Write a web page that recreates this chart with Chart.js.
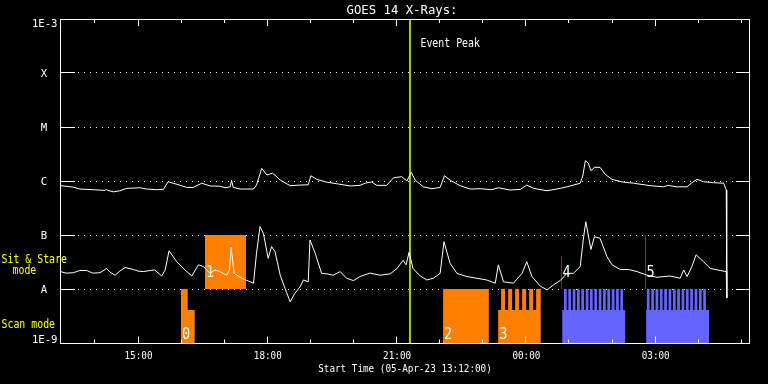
<!DOCTYPE html>
<html><head><meta charset="utf-8">
<script src="https://cdn.jsdelivr.net/npm/chart.js@4/dist/chart.umd.min.js"></script>
<style>html,body{margin:0;padding:0;background:#000;overflow:hidden}</style>
</head><body>
<canvas id="c" width="768" height="384"></canvas>
<script>
// ---- axis data ----
const hourTicks = [14,15,16,17,18,19,20,21,22,23,24,25,26,27,28,29];
const labelHours = [15,18,21,24,27];
const labelTexts = ['15:00','18:00','21:00','00:00','03:00'];
const levelValues = [1e-9,1e-8,1e-7,1e-6,1e-5,1e-4,1e-3];
const levelLabels = ['1E-9','A','B','C','M','X','1E-3'];
const titleText = 'GOES 14 X-Rays:';
const xTitleText = 'Start Time (05-Apr-23 13:12:00)';

// ---- GOES long channel (1-8 A) ----
const longT = [13.20,13.50,13.65,13.96,14.23,14.27,14.30,14.43,14.58,14.74,15.05,15.20,15.43,15.59,15.70,15.90,16.13,16.28,16.48,16.67,16.90,17.02,17.14,17.17,17.21,17.37,17.68,17.75,17.87,17.99,18.12,18.22,18.30,18.53,18.76,18.95,19.01,19.15,19.38,19.61,19.92,20.15,20.27,20.42,20.54,20.77,20.93,21.12,21.24,21.34,21.43,21.62,21.82,22.01,22.11,22.24,22.47,22.71,22.94,23.21,23.36,23.63,23.87,24.02,24.18,24.49,24.80,25.03,25.26,25.32,25.38,25.45,25.51,25.59,25.72,25.84,26.00,26.26,26.50,26.88,27.19,27.30,27.50,27.74,27.85,27.97,28.12,28.35,28.59,28.65,28.66];
const longF = [8.2e-7,7.7e-7,7.1e-7,6.9e-7,6.7e-7,7.0e-7,6.7e-7,6.3e-7,6.6e-7,7.3e-7,7.5e-7,7.1e-7,6.9e-7,7.0e-7,9.7e-7,8.7e-7,7.6e-7,7.6e-7,9.1e-7,8.1e-7,8.0e-7,7.5e-7,7.8e-7,1.03e-6,7.6e-7,7.1e-7,7.1e-7,8.4e-7,1.72e-6,1.29e-6,1.39e-6,1.20e-6,1.04e-6,8.2e-7,8.4e-7,8.5e-7,1.25e-6,1.07e-6,9.5e-7,8.9e-7,8.1e-7,8.3e-7,9.1e-7,9.6e-7,8.3e-7,8.3e-7,1.15e-6,1.20e-6,1.00e-6,1.45e-6,1.04e-6,7.8e-7,7.2e-7,7.6e-7,1.25e-6,1.04e-6,8.2e-7,7.1e-7,7.2e-7,6.9e-7,7.5e-7,6.8e-7,7.0e-7,8.4e-7,7.3e-7,6.6e-7,7.3e-7,8.1e-7,9.1e-7,1.24e-6,2.38e-6,2.13e-6,1.55e-6,1.79e-6,1.79e-6,1.33e-6,1.07e-6,9.5e-7,9.1e-7,8.2e-7,7.8e-7,8.3e-7,7.8e-7,7.8e-7,9.3e-7,1.07e-6,9.7e-7,9.3e-7,9.1e-7,6.8e-7,6.8e-9];

// ---- GOES short channel (0.5-4 A) ----
const shortT = [13.20,13.33,13.50,13.65,13.81,13.95,14.12,14.27,14.35,14.47,14.58,14.70,14.89,15.00,15.12,15.28,15.39,15.55,15.63,15.72,15.90,16.09,16.25,16.40,16.52,16.67,16.79,16.90,17.06,17.12,17.16,17.23,17.41,17.56,17.68,17.75,17.83,17.91,18.02,18.10,18.18,18.30,18.41,18.53,18.64,18.76,18.84,18.95,18.99,19.11,19.26,19.39,19.53,19.69,19.84,20.00,20.15,20.38,20.62,20.85,21.01,21.15,21.22,21.29,21.38,21.55,21.70,21.85,22.01,22.10,22.24,22.40,22.63,22.86,23.09,23.29,23.36,23.48,23.71,23.91,24.02,24.14,24.33,24.49,24.64,24.80,24.95,25.10,25.26,25.34,25.39,25.51,25.59,25.72,25.88,26.00,26.19,26.38,26.58,26.81,27.04,27.35,27.58,27.66,27.74,27.85,27.95,28.12,28.28,28.51,28.65,28.66];
const shortF = [2.1e-8,1.97e-8,2.0e-8,2.2e-8,2.2e-8,1.97e-8,2.0e-8,2.4e-8,2.05e-8,1.8e-8,2.15e-8,2.5e-8,2.3e-8,2.15e-8,2.1e-8,2.2e-8,2.25e-8,1.74e-8,2.25e-8,5.1e-8,3.2e-8,2.25e-8,1.74e-8,2.8e-8,2.6e-8,1.95e-8,2.25e-8,2.1e-8,1.8e-8,2.25e-8,5.9e-8,1.95e-8,1.58e-8,1.4e-8,1.28e-8,4.6e-8,1.43e-7,1.07e-7,3.7e-8,6.1e-8,4.9e-8,1.8e-8,1.03e-8,5.8e-9,8.3e-9,1.1e-8,1.47e-8,1.36e-8,8.1e-8,4.6e-8,1.95e-8,1.9e-8,1.8e-8,2.1e-8,1.58e-8,1.43e-8,1.7e-8,1.97e-8,1.8e-8,1.9e-8,2.4e-8,3.4e-8,2.8e-8,4.8e-8,2.4e-8,1.74e-8,1.47e-8,1.58e-8,1.95e-8,7.5e-8,3.0e-8,1.95e-8,1.7e-8,1.58e-8,1.47e-8,1.28e-8,2.8e-8,1.36e-8,1.28e-8,1.95e-8,3.2e-8,1.7e-8,1.14e-8,9.6e-9,1.19e-8,1.44e-8,1.95e-8,1.95e-8,2.6e-8,9.3e-8,1.76e-7,5.4e-8,9.3e-8,8.7e-8,4.0e-8,2.8e-8,2.3e-8,2.3e-8,2.1e-8,1.8e-8,1.65e-8,1.74e-8,1.58e-8,2.25e-8,1.7e-8,2.6e-8,4.3e-8,3.2e-8,2.4e-8,2.2e-8,2.1e-8,6.8e-9];

// ---- event peak ----
const eventTime = 21.31;
const eventText = 'Event Peak';

// ---- observing modes ----
const offLevel = 1e-9;
const spikeLevel = 1e-8;
// sit & stare (orange, between A and B)
const sitStart = [16.554];
const sitEnd = [17.506];
const sitLow = 1e-8, sitHigh = 1e-7;
// scan mode, orange
const orangeStart = [15.997, 22.079, 23.356];
const orangeEnd   = [16.315, 23.140, 24.347];
const orangeBase  = [4.1e-9, 1e-8, 4.1e-9];
const orangeSpikeStart = [15.997,23.425,23.588,23.750,23.913,24.076,24.238];
const orangeSpikeEnd   = [16.153,23.518,23.681,23.843,24.006,24.169,24.347];
// scan mode, blue
const blueStart = [24.841, 26.791];
const blueEnd   = [26.304, 28.254];
const blueBase  = [4.1e-9, 4.1e-9];
const blueSpikeStart = [24.885,24.985,25.086,25.186,25.286,25.388,25.488,25.588,25.690,25.790,25.890,25.992,26.092,26.192,
                        26.807,26.908,27.009,27.109,27.209,27.311,27.411,27.511,27.613,27.713,27.813,27.915,28.015,28.115];
const blueSpikeEnd   = [24.948,25.048,25.149,25.249,25.349,25.451,25.551,25.651,25.753,25.853,25.953,26.055,26.155,26.255,
                        26.870,26.971,27.072,27.172,27.272,27.374,27.474,27.574,27.676,27.776,27.876,27.978,28.078,28.178];
// markers 4,5
const markerTime = [24.825, 26.775];
const markerTop  = [4.1e-8, 1e-7];
// numbered sequences
const seqLabels = ['0','1','2','3','4','5'];
const seqTime   = [15.997, 16.554, 22.079, 23.356, 24.825, 26.775];
const seqUpper  = [false, true, false, false, true, true];

// ---- build ----
const pts = (t, v) => t.map((x, i) => ({x, y: v[i]}));
function buildSteps(starts, ends, bases, spS, spE) {
  const bps = [...starts, ...ends, ...spS, ...spE].sort((a, b) => a - b)
    .filter((v, i, a) => i === 0 || v !== a[i - 1]);
  const val = t => {
    let v = offLevel;
    for (let i = 0; i < starts.length; i++) if (t >= starts[i] && t < ends[i]) v = Math.max(v, bases[i]);
    for (let i = 0; i < spS.length; i++) if (t >= spS[i] && t < spE[i]) v = Math.max(v, spikeLevel);
    return v;
  };
  return bps.map(t => ({x: t, y: val(t)}));
}
function buildSit() {
  const d = [];
  sitStart.forEach((s, i) => { d.push({x: s, y: sitHigh}); d.push({x: sitEnd[i], y: sitLow}); });
  return d;
}

const WHITE = '#ffffff', ORANGE = '#ff8000', BLUE = '#6464ff', GREEN = '#a0d000', MAGENTA = '#b000b0', YELLOW = '#ffff00';
const clear = 'rgba(0,0,0,0)';

const datasets = [
  {data: pts(longT, longF), borderColor: WHITE, borderWidth: 1, pointRadius: 0, fill: false, tension: 0},
  {data: pts(shortT, shortF), borderColor: WHITE, borderWidth: 1, pointRadius: 0, fill: false, tension: 0},
  {data: [{x: eventTime, y: levelValues[0]}, {x: eventTime, y: levelValues[6]}], borderColor: GREEN, borderWidth: 2, pointRadius: 0, fill: false},
  ...markerTime.map((t, i) => ({data: [{x: t, y: spikeLevel}, {x: t, y: markerTop[i]}], borderColor: MAGENTA, borderWidth: 1, pointRadius: 0, fill: false})),
  {data: buildSit(), stepped: true, borderColor: clear, borderWidth: 1, pointRadius: 0, backgroundColor: ORANGE, fill: {value: sitLow}},
  {data: buildSteps(orangeStart, orangeEnd, orangeBase, orangeSpikeStart, orangeSpikeEnd), stepped: true, borderColor: clear, borderWidth: 1, pointRadius: 0, backgroundColor: ORANGE, fill: 'start'},
  {data: buildSteps(blueStart, blueEnd, blueBase, blueSpikeStart, blueSpikeEnd), stepped: true, borderColor: clear, borderWidth: 1, pointRadius: 0, backgroundColor: BLUE, fill: 'start'}
];

function drawText(ctx, str, x, y, size, adv, align, color) {
  ctx.save();
  ctx.font = size + 'px "DejaVu Sans Mono"';
  const nat = ctx.measureText(str).width;
  const w = adv * str.length;
  const sx = w / nat;
  ctx.fillStyle = color;
  ctx.textBaseline = 'alphabetic';
  ctx.textAlign = 'left';
  const x0 = align === 'center' ? x - w / 2 : align === 'right' ? x - w : x;
  ctx.translate(x0, y);
  ctx.scale(sx, 1);
  ctx.fillText(str, 0, 0);
  ctx.restore();
}

const decor = {
  id: 'decor',
  beforeDraw(chart) {
    const ctx = chart.ctx;
    ctx.save(); ctx.fillStyle = '#000'; ctx.fillRect(0, 0, chart.width, chart.height); ctx.restore();
  },
  beforeDatasetsDraw(chart) {
    const {ctx, chartArea: a, scales: {y}} = chart;
    ctx.save();
    ctx.strokeStyle = WHITE; ctx.lineWidth = 1;
    levelValues.slice(1, -1).forEach(v => {
      const py = Math.floor(y.getPixelForValue(v)) + 0.5;
      ctx.setLineDash([1, 5]);
      ctx.beginPath(); ctx.moveTo(a.left, py); ctx.lineTo(a.right, py); ctx.stroke();
    });
    ctx.restore();
  },
  afterDatasetsDraw(chart) {
    const {ctx, chartArea: a, scales: {x, y}} = chart;
    ctx.save();
    ctx.strokeStyle = WHITE; ctx.lineWidth = 1; ctx.setLineDash([]);
    levelValues.slice(1, -1).forEach(v => {
      const py = Math.floor(y.getPixelForValue(v)) + 0.5;
      ctx.beginPath(); ctx.moveTo(a.left, py); ctx.lineTo(a.left + 15, py);
      ctx.moveTo(a.right - 14, py); ctx.lineTo(a.right, py); ctx.stroke();
    });
    ctx.strokeRect(a.left + 0.5, a.top + 0.5, a.right - a.left - 1, a.bottom - a.top);
    hourTicks.forEach(h => {
      const px = Math.floor(x.getPixelForValue(h)) + 0.5;
      const len = labelHours.includes(h) ? 7 : 4;
      ctx.beginPath();
      ctx.moveTo(px, a.bottom + 0.5); ctx.lineTo(px, a.bottom + 0.5 - len);
      ctx.moveTo(px, a.top); ctx.lineTo(px, a.top + len);
      ctx.stroke();
    });
    ctx.restore();
    labelHours.forEach((h, i) => drawText(ctx, labelTexts[i], x.getPixelForValue(h) + 0.5, a.bottom + 16, 10, 5.6, 'center', WHITE));
    levelValues.forEach((v, i) => {
      let py = y.getPixelForValue(v);
      py = Math.min(Math.max(py, a.top + 4), a.bottom - 3.5);
      const s = levelLabels[i];
      if (s.length === 1) drawText(ctx, s, 44, py + 3.8, 10, 6.4, 'center', WHITE);
      else drawText(ctx, s, 57.5, py + 3.8, 10, 6.4, 'right', WHITE);
    });
    drawText(ctx, titleText, (a.left + a.right) / 2 - 3, 14, 12.5, 7.4, 'center', WHITE);
    drawText(ctx, xTitleText, (a.left + a.right) / 2, 372, 10.5, 5.6, 'center', WHITE);
    drawText(ctx, eventText, x.getPixelForValue(eventTime) + 10.5, 47, 11.5, 5.95, 'left', WHITE);
    drawText(ctx, 'Sit & Stare', 1.5, 262.7, 12, 5.95, 'left', YELLOW);
    drawText(ctx, 'mode', 12.5, 274.3, 12, 5.95, 'left', YELLOW);
    drawText(ctx, 'Scan mode', 1.5, 328.3, 12, 5.95, 'left', YELLOW);
    seqLabels.forEach((s, i) => {
      const px = x.getPixelForValue(seqTime[i]) + 1;
      drawText(ctx, s, px, seqUpper[i] ? 277.3 : 338.5, 15, 8.2, 'left', WHITE);
    });
  }
};

new Chart(document.getElementById('c'), {
  type: 'line',
  data: {datasets},
  options: {
    responsive: false, animation: false, events: [],
    layout: {padding: {left: 60, right: 18, top: 19, bottom: 41}},
    scales: {
      x: {type: 'linear', min: 13.19, max: 29.2, display: false},
      y: {type: 'logarithmic', min: 1e-9, max: 1e-3, display: false}
    },
    plugins: {legend: {display: false}, tooltip: {enabled: false}, title: {display: false}},
    elements: {point: {radius: 0}, line: {tension: 0}}
  },
  plugins: [decor]
});
</script>
</body></html>
